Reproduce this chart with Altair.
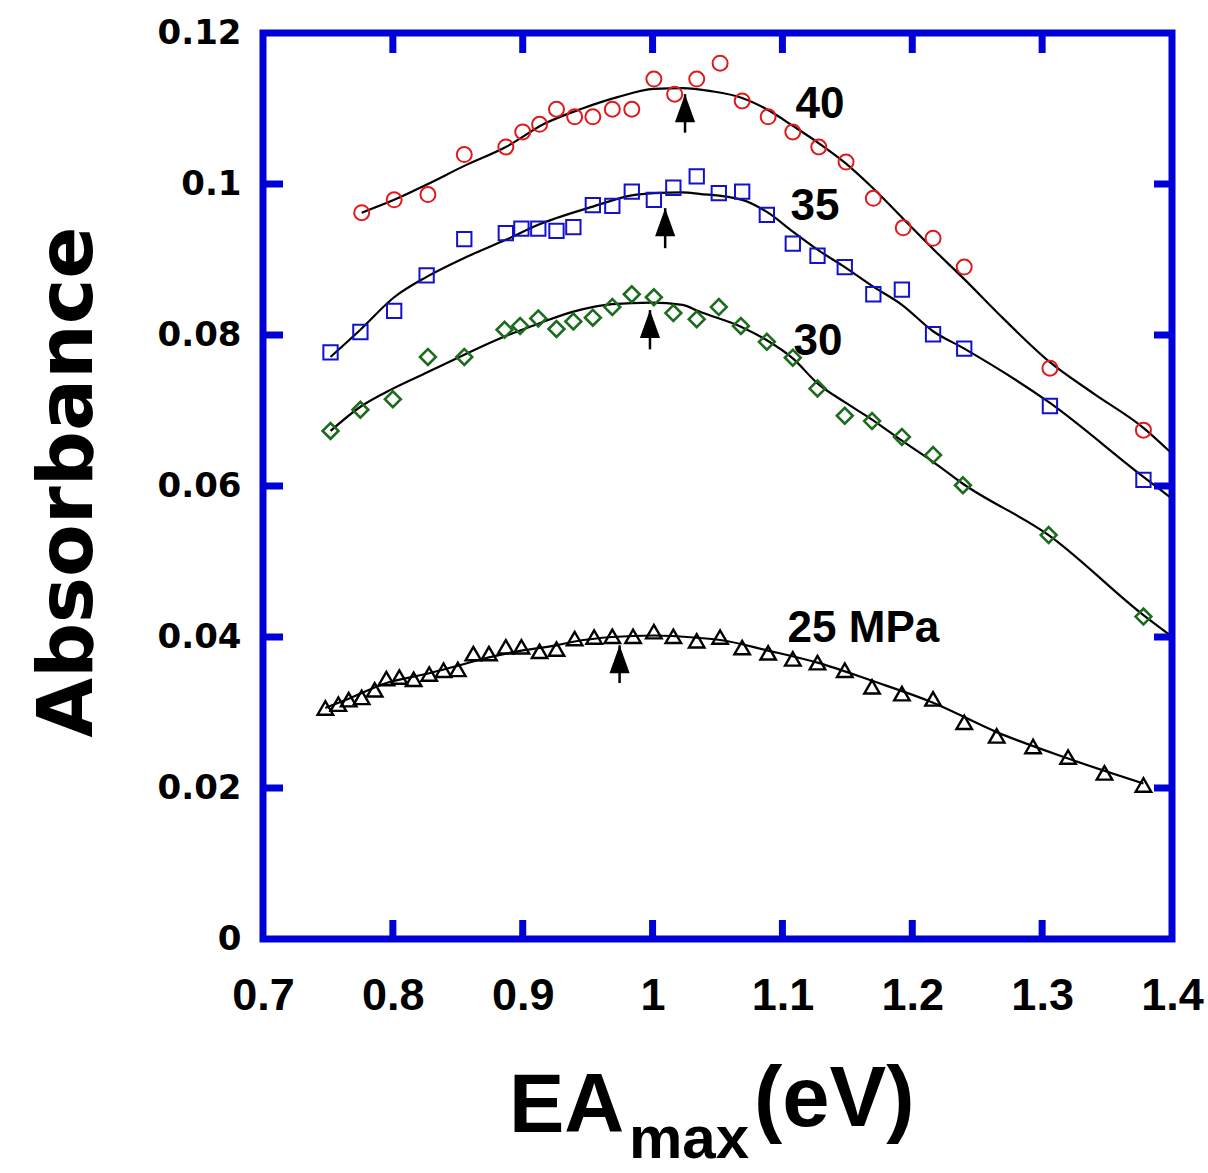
import altair as alt
import pandas as pd

# ---- measured spectra (EA_max in eV, absorbance) ----
p40_x = [0.776, 0.801, 0.827, 0.855, 0.887, 0.900, 0.913, 0.926, 0.940, 0.954, 0.969, 0.984,
         1.001, 1.017, 1.034, 1.052, 1.069, 1.089, 1.108, 1.128, 1.149, 1.170, 1.193, 1.216,
         1.240, 1.306, 1.378]
p40_y = [0.0962, 0.0979, 0.0986, 0.1039, 0.1049, 0.1069, 0.1079, 0.1099, 0.1089, 0.1089, 0.1099, 0.1099,
         0.1139, 0.1119, 0.1139, 0.1160, 0.1110, 0.1089, 0.1069, 0.1049, 0.1029, 0.0981, 0.0942, 0.0928,
         0.0890, 0.0756, 0.0674]

p35_x = [0.752, 0.775, 0.801, 0.826, 0.855, 0.887, 0.899, 0.912, 0.926, 0.939, 0.954, 0.969,
         0.984, 1.001, 1.016, 1.034, 1.051, 1.069, 1.088, 1.108, 1.127, 1.148, 1.170, 1.192,
         1.216, 1.240, 1.306, 1.378]
p35_y = [0.0777, 0.0804, 0.0832, 0.0879, 0.0927, 0.0935, 0.0941, 0.0941, 0.0938, 0.0943, 0.0972, 0.0971,
         0.0990, 0.0979, 0.0995, 0.1010, 0.0988, 0.0990, 0.0959, 0.0921, 0.0905, 0.0890, 0.0854, 0.0860,
         0.0801, 0.0782, 0.0706, 0.0608]

p30_x = [0.752, 0.775, 0.800, 0.827, 0.855, 0.886, 0.898, 0.912, 0.926, 0.939, 0.954, 0.969,
         0.984, 1.001, 1.016, 1.034, 1.051, 1.068, 1.088, 1.108, 1.127, 1.148, 1.169, 1.192,
         1.216, 1.239, 1.305, 1.378]
p30_y = [0.0673, 0.0701, 0.0715, 0.0771, 0.0771, 0.0807, 0.0812, 0.0822, 0.0808, 0.0818, 0.0823, 0.0837,
         0.0854, 0.0850, 0.0829, 0.0821, 0.0837, 0.0812, 0.0791, 0.0770, 0.0729, 0.0693, 0.0686, 0.0665,
         0.0641, 0.0601, 0.0535, 0.0427]

p25_x = [0.748, 0.758, 0.766, 0.776, 0.786, 0.795, 0.805, 0.816, 0.828, 0.839, 0.850, 0.862,
         0.874, 0.887, 0.899, 0.913, 0.926, 0.940, 0.955, 0.969, 0.985, 1.001, 1.016, 1.034,
         1.052, 1.069, 1.089, 1.108, 1.127, 1.148, 1.169, 1.192, 1.216, 1.240, 1.265, 1.293,
         1.320, 1.348, 1.378]
p25_y = [0.0306, 0.0311, 0.0317, 0.0320, 0.0330, 0.0345, 0.0347, 0.0344, 0.0351, 0.0356, 0.0357, 0.0378,
         0.0378, 0.0387, 0.0387, 0.0381, 0.0384, 0.0398, 0.0400, 0.0401, 0.0401, 0.0407, 0.0401, 0.0395,
         0.0400, 0.0386, 0.0379, 0.0371, 0.0366, 0.0356, 0.0334, 0.0325, 0.0318, 0.0287, 0.0269, 0.0255,
         0.0241, 0.0220, 0.0204]

# ---- fitted curves ----
f40_x = [0.776, 0.801, 0.827, 0.855, 0.887, 0.917, 0.946, 0.973, 1.001, 1.023, 1.045, 1.069,
         1.089, 1.108, 1.128, 1.149, 1.170, 1.193, 1.216, 1.240, 1.270, 1.306, 1.340, 1.378, 1.398]
f40_y = [0.0962, 0.0979, 0.1000, 0.1024, 0.1049, 0.1080, 0.1100, 0.1115, 0.1126, 0.1127, 0.1123, 0.1114,
         0.1098, 0.1077, 0.1054, 0.1027, 0.0994, 0.0954, 0.0914, 0.0874, 0.0822, 0.0764, 0.0722, 0.0677, 0.0646]

f35_x = [0.752, 0.775, 0.801, 0.826, 0.855, 0.887, 0.912, 0.954, 0.984, 1.001, 1.023, 1.036,
         1.069, 1.088, 1.108, 1.127, 1.148, 1.170, 1.192, 1.216, 1.240, 1.306, 1.378, 1.398]
f35_y = [0.0771, 0.0807, 0.0850, 0.0877, 0.0902, 0.0926, 0.0946, 0.0970, 0.0985, 0.0988, 0.0989, 0.0987,
         0.0979, 0.0963, 0.0937, 0.0913, 0.0890, 0.0864, 0.0840, 0.0805, 0.0782, 0.0710, 0.0612, 0.0586]

f30_x = [0.752, 0.775, 0.800, 0.827, 0.855, 0.886, 0.912, 0.939, 0.969, 0.999, 1.023, 1.036,
         1.068, 1.088, 1.108, 1.127, 1.148, 1.169, 1.192, 1.216, 1.239, 1.305, 1.378, 1.398]
f30_y = [0.0673, 0.0705, 0.0729, 0.0751, 0.0774, 0.0798, 0.0815, 0.0831, 0.0841, 0.0843, 0.0840, 0.0831,
         0.0811, 0.0793, 0.0769, 0.0736, 0.0711, 0.0688, 0.0660, 0.0632, 0.0603, 0.0535, 0.0429, 0.0403]

f25_x = [0.748, 0.767, 0.795, 0.828, 0.850, 0.874, 0.899, 0.926, 0.940, 0.969, 1.001, 1.034,
         1.052, 1.089, 1.127, 1.169, 1.216, 1.265, 1.320, 1.378]
f25_y = [0.0306, 0.0319, 0.0339, 0.0352, 0.0362, 0.0373, 0.0382, 0.0389, 0.0394, 0.0400, 0.0402, 0.0399,
         0.0396, 0.0382, 0.0366, 0.0342, 0.0313, 0.0274, 0.0239, 0.0206]

# ---- peak arrows: position, tip and tail ----
arrow_x = [1.025, 1.0097, 0.998, 0.9746]
arrow_tip = [0.1119, 0.0968, 0.0833, 0.0389]
arrow_tail = [0.1068, 0.0915, 0.0781, 0.0339]

# ---- curve labels ----
label_text = ["40", "35", "30", "25 MPa"]
label_x = [1.1100, 1.1062, 1.1085, 1.1040]
label_y = [0.1087, 0.0952, 0.0774, 0.0393]

x_ticks = [0.7, 0.8, 0.9, 1.0, 1.1, 1.2, 1.3, 1.4]
y_ticks = [0, 0.02, 0.04, 0.06, 0.08, 0.1, 0.12]
inner_x_ticks = [0.8, 0.9, 1.0, 1.1, 1.2, 1.3]
inner_y_ticks = [0.02, 0.04, 0.06, 0.08, 0.1]

W, H = 909, 906
FRAME = "#0000d8"
BOLD_WIDE = "DejaVu Sans"
ARIAL = "Liberation Sans"
SHORT_NUM = "format(datum.value, '~g')"

xs = alt.Scale(domain=[0.7, 1.4], nice=False, zero=False)
ys = alt.Scale(domain=[0, 0.12], nice=False, zero=False)

x_axis = alt.Axis(values=x_ticks, labelExpr=SHORT_NUM, labelFont=ARIAL, labelFontSize=45,
                  labelFontWeight="bold", labelColor="black", labelPadding=34,
                  labelFlush=False, labelOverlap=False, domain=False, ticks=False,
                  tickSize=0, grid=False, title=None)
y_axis = alt.Axis(values=y_ticks, labelExpr=SHORT_NUM, labelFont=BOLD_WIDE, labelFontSize=34,
                  labelFontWeight="bold", labelColor="black", labelPadding=22,
                  labelFlush=False, labelOverlap=False, domain=False, ticks=False,
                  tickSize=0, grid=False, title=None)


def X(field):
    return alt.X(field, scale=xs, axis=x_axis)


def Y(field):
    return alt.Y(field, scale=ys, axis=y_axis)


def pts(xv, yv):
    return pd.DataFrame({"x": xv, "y": yv})


layers = []

# fitted curves
for fx, fy in [(f40_x, f40_y), (f35_x, f35_y), (f30_x, f30_y), (f25_x, f25_y)]:
    layers.append(alt.Chart(pts(fx, fy)).mark_line(
        color="black", strokeWidth=2.2, interpolate="monotone").encode(x=X("x:Q"), y=Y("y:Q")))

# data markers
marker_specs = [
    (p40_x, p40_y, "circle", 225, 2.0, "#e01a1a"),
    (p35_x, p35_y, "square", 205, 2.0, "#1212cc"),
    (p30_x, p30_y, "diamond", 250, 2.6, "#1d6b1d"),
    (p25_x, p25_y, "triangle-up", 240, 2.4, "black"),
]
for mx, my, shape, size, sw, col in marker_specs:
    layers.append(alt.Chart(pts(mx, my)).mark_point(
        shape=shape, filled=False, size=size, strokeWidth=sw, color=col, opacity=1
    ).encode(x=X("x:Q"), y=Y("y:Q")))

# peak arrows
arrows = pd.DataFrame({"x": arrow_x, "tip": arrow_tip, "tail": arrow_tail})
layers.append(alt.Chart(arrows).mark_rule(color="black", strokeWidth=2.5).encode(
    x=X("x:Q"), y=Y("tip:Q"), y2="tail:Q"))
layers.append(alt.Chart(arrows).mark_point(
    shape="M0,0L0.36,1L-0.36,1Z", filled=True, size=3136, color="black", opacity=1,
    strokeWidth=0).encode(x=X("x:Q"), y=Y("tip:Q")))

# curve labels
labels = pd.DataFrame({"x": label_x, "y": label_y, "t": label_text})
layers.append(alt.Chart(labels).mark_text(
    font=ARIAL, fontSize=44, fontWeight="bold", color="black", align="left",
    baseline="alphabetic").encode(x=X("x:Q"), y=Y("y:Q"), text="t:N"))

# inward frame ticks
xt = pd.DataFrame({"v": inner_x_ticks})
yt = pd.DataFrame({"v": inner_y_ticks})
tick_style = dict(color=FRAME, strokeWidth=7, strokeCap="butt")
layers.append(alt.Chart(xt).mark_rule(**tick_style).encode(
    x=X("v:Q"), y=alt.value(0), y2=alt.value(20)))
layers.append(alt.Chart(xt).mark_rule(**tick_style).encode(
    x=X("v:Q"), y=alt.value(H), y2=alt.value(H - 19)))
layers.append(alt.Chart(yt).mark_rule(**tick_style).encode(
    y=Y("v:Q"), x=alt.value(0), x2=alt.value(20)))
layers.append(alt.Chart(yt).mark_rule(**tick_style).encode(
    y=Y("v:Q"), x=alt.value(W), x2=alt.value(W - 18)))

# axis titles
one = pd.DataFrame({"k": [0]})
layers.append(alt.Chart(one).mark_text(
    text="Absorbance", font=BOLD_WIDE, fontSize=77, fontWeight="bold", color="black",
    angle=270, align="center", baseline="alphabetic").encode(
    x=alt.value(-171), y=alt.value(449)))
layers.append(alt.Chart(one).mark_text(
    text="EA", font=ARIAL, fontSize=83, fontWeight="bold", color="black",
    align="left", baseline="alphabetic").encode(x=alt.value(246), y=alt.value(1099)))
layers.append(alt.Chart(one).mark_text(
    text="max", font=ARIAL, fontSize=60, fontWeight="bold", color="black",
    align="left", baseline="alphabetic").encode(x=alt.value(366), y=alt.value(1125)))
layers.append(alt.Chart(one).mark_text(
    text="(eV)", font=ARIAL, fontSize=85, fontWeight="bold", color="black",
    align="left", baseline="alphabetic").encode(x=alt.value(491), y=alt.value(1093)))

chart = alt.layer(*layers).properties(
    width=W, height=H,
    autosize=alt.AutoSizeParams(type="none"),
    padding={"left": 263, "top": 33, "right": 36, "bottom": 234},
    background="white",
).configure_view(stroke=FRAME, strokeWidth=7, fill="white")

chart.save("out.html", embed_options={"renderer": "svg", "actions": False})
